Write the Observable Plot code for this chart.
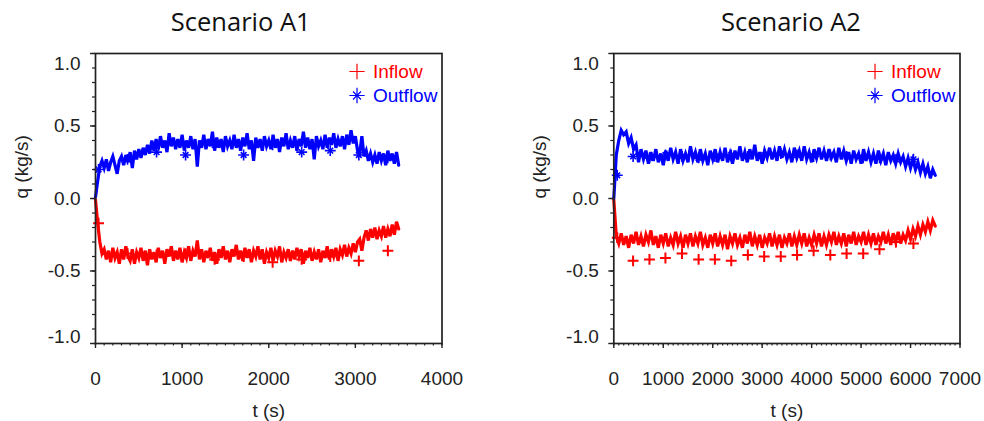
<!DOCTYPE html>
<html>
<head>
<meta charset="utf-8">
<script src="https://cdn.jsdelivr.net/npm/d3@7"></script>
<script src="https://cdn.jsdelivr.net/npm/@observablehq/plot@0.6"></script>
<style>
  html, body { margin: 0; padding: 0; background: #fff; }
  #wrap { position: relative; width: 984px; height: 421px; overflow: hidden; background: #fff; }
  .panel { position: absolute; top: 0; }
</style>
</head>
<body>
<div id="wrap"></div>
<script>
// ---------- text ----------
const titles = ["Scenario A1", "Scenario A2"];
const seriesNames = ["Inflow", "Outflow"];
const seriesColors = ["#ff0000", "#0000ff"];
const xLabel = "t (s)";
const yLabel = "q (kg/s)";

// ---------- ticks ----------
const yTicksMajorInner = [0.5, 0.0, -0.5];
const yTickTop = [1.0];
const yTickBottom = [-1.0];
const xTicksA1 = [0, 1000, 2000, 3000, 4000];
const xTicksA2 = [0, 1000, 2000, 3000, 4000, 5000, 6000, 7000];

// ---------- series (sampled every stepA1 / stepA2 seconds) ----------
const stepA1 = 25;
const outflowA1 = [
  0.01,0.12,0.22,0.26,0.21,0.27,0.19,0.25,0.29,0.23,
  0.17,0.26,0.29,0.23,0.30,0.25,0.32,0.21,0.33,0.27,
  0.34,0.28,0.35,0.30,0.37,0.31,0.40,0.33,0.41,0.34,
  0.43,0.35,0.40,0.32,0.45,0.36,0.42,0.34,0.41,0.35,
  0.44,0.33,0.40,0.35,0.43,0.34,0.41,0.22,0.40,0.35,
  0.44,0.34,0.41,0.36,0.46,0.33,0.42,0.35,0.41,0.32,
  0.43,0.36,0.40,0.34,0.44,0.35,0.41,0.33,0.42,0.36,
  0.45,0.34,0.40,0.26,0.42,0.35,0.41,0.33,0.43,0.36,
  0.40,0.34,0.44,0.35,0.41,0.32,0.42,0.36,0.45,0.34,
  0.40,0.35,0.43,0.33,0.41,0.36,0.46,0.35,0.42,0.34,
  0.41,0.27,0.43,0.36,0.40,0.34,0.44,0.35,0.42,0.37,
  0.45,0.35,0.41,0.36,0.43,0.34,0.44,0.37,0.47,0.38,
  0.43,0.33,0.31,0.43,0.29,0.33,0.26,0.31,0.25,0.30,
  0.24,0.32,0.26,0.31,0.23,0.33,0.26,0.31,0.24,0.32,
  0.23
];
const inflowA1 = [
  -0.01,-0.17,-0.30,-0.38,-0.35,-0.42,-0.36,-0.44,-0.34,-0.41,
  -0.37,-0.45,-0.35,-0.42,-0.33,-0.40,-0.43,-0.35,-0.45,-0.37,
  -0.41,-0.34,-0.43,-0.36,-0.46,-0.35,-0.42,-0.37,-0.44,-0.34,
  -0.41,-0.36,-0.45,-0.35,-0.40,-0.33,-0.43,-0.36,-0.42,-0.34,
  -0.44,-0.37,-0.41,-0.33,-0.43,-0.36,-0.40,-0.29,-0.42,-0.35,
  -0.44,-0.36,-0.41,-0.34,-0.43,-0.37,-0.45,-0.35,-0.41,-0.33,
  -0.42,-0.36,-0.44,-0.35,-0.40,-0.32,-0.42,-0.36,-0.43,-0.34,
  -0.41,-0.35,-0.44,-0.36,-0.40,-0.33,-0.42,-0.35,-0.45,-0.37,
  -0.41,-0.34,-0.43,-0.36,-0.40,-0.33,-0.44,-0.37,-0.41,-0.35,
  -0.43,-0.36,-0.42,-0.34,-0.40,-0.35,-0.45,-0.36,-0.41,-0.34,
  -0.43,-0.37,-0.42,-0.35,-0.44,-0.36,-0.41,-0.33,-0.42,-0.35,
  -0.40,-0.34,-0.43,-0.35,-0.39,-0.32,-0.40,-0.34,-0.38,-0.31,
  -0.37,-0.30,-0.28,-0.36,-0.27,-0.22,-0.29,-0.21,-0.27,-0.20,
  -0.28,-0.22,-0.26,-0.19,-0.27,-0.21,-0.26,-0.18,-0.25,-0.16,
  -0.21
];
const markerTimesA1 = [35, 370, 705, 1040, 1375, 1710, 2045, 2380, 2710, 3040, 3375];
const markerInflowA1 = [-0.17, -0.38, -0.39, -0.38, -0.42, -0.40, -0.44, -0.42, -0.40, -0.43, -0.36];
const markerOutflowA1 = [0.20, 0.27, 0.32, 0.30, 0.37, 0.30, 0.37, 0.32, 0.33, 0.30, 0.28];

const stepA2 = 50;
const outflowA2 = [
  0.00,0.30,0.40,0.47,0.44,0.46,0.38,0.42,0.34,0.37,
  0.25,0.34,0.27,0.33,0.24,0.32,0.26,0.34,0.25,0.31,
  0.23,0.33,0.26,0.35,0.27,0.32,0.24,0.34,0.26,0.31,
  0.25,0.36,0.27,0.32,0.25,0.34,0.26,0.31,0.23,0.33,
  0.27,0.34,0.25,0.32,0.26,0.35,0.25,0.31,0.24,0.33,
  0.27,0.36,0.26,0.32,0.25,0.34,0.27,0.37,0.26,0.32,
  0.24,0.33,0.28,0.35,0.27,0.33,0.26,0.36,0.28,0.34,
  0.27,0.32,0.25,0.35,0.28,0.33,0.26,0.36,0.27,0.32,
  0.25,0.34,0.28,0.35,0.27,0.33,0.26,0.34,0.28,0.32,
  0.25,0.35,0.27,0.33,0.26,0.32,0.24,0.33,0.27,0.31,
  0.24,0.34,0.26,0.32,0.25,0.31,0.24,0.33,0.26,0.31,
  0.23,0.32,0.26,0.30,0.24,0.31,0.25,0.29,0.22,0.28,
  0.21,0.27,0.20,0.25,0.18,0.24,0.17,0.22,0.14,0.20,
  0.16
];
const inflowA2 = [
  -0.01,-0.26,-0.31,-0.24,-0.32,-0.26,-0.34,-0.25,-0.31,-0.23,
  -0.32,-0.26,-0.33,-0.25,-0.30,-0.22,-0.32,-0.26,-0.34,-0.25,
  -0.31,-0.24,-0.33,-0.27,-0.32,-0.23,-0.31,-0.26,-0.34,-0.25,
  -0.31,-0.24,-0.33,-0.26,-0.31,-0.23,-0.32,-0.27,-0.34,-0.25,
  -0.31,-0.24,-0.33,-0.26,-0.32,-0.25,-0.35,-0.26,-0.31,-0.24,
  -0.32,-0.27,-0.34,-0.25,-0.31,-0.23,-0.33,-0.26,-0.32,-0.25,
  -0.34,-0.27,-0.31,-0.24,-0.33,-0.26,-0.32,-0.25,-0.34,-0.27,
  -0.31,-0.24,-0.33,-0.26,-0.32,-0.25,-0.31,-0.24,-0.33,-0.27,
  -0.32,-0.25,-0.31,-0.24,-0.33,-0.26,-0.32,-0.25,-0.30,-0.23,
  -0.32,-0.26,-0.31,-0.24,-0.33,-0.25,-0.31,-0.23,-0.32,-0.26,
  -0.30,-0.23,-0.32,-0.25,-0.31,-0.24,-0.32,-0.26,-0.30,-0.23,
  -0.31,-0.25,-0.32,-0.24,-0.30,-0.23,-0.31,-0.25,-0.29,-0.22,
  -0.28,-0.21,-0.26,-0.19,-0.25,-0.18,-0.23,-0.16,-0.22,-0.15,
  -0.19
];
const markerTimesA2 = [70, 390, 721, 1044, 1379, 1715, 2044, 2375, 2710, 3041, 3376, 3706, 4040, 4378, 4707, 5043, 5372, 5705, 6058];
const markerInflowA2 = [-0.27, -0.43, -0.42, -0.41, -0.38, -0.42, -0.42, -0.43, -0.39, -0.40, -0.40, -0.39, -0.36, -0.39, -0.38, -0.38, -0.35, -0.30, -0.31];
const markerOutflowA2 = [0.16, 0.29, 0.28, 0.30, 0.29, 0.28, 0.29, 0.30, 0.29, 0.30, 0.31, 0.30, 0.29, 0.30, 0.29, 0.28, 0.28, 0.27, 0.27];

// ---------- build ----------
const fmt = d => d.toFixed(1);
const yMinor = d3.range(-10, 11).map(i => i / 10);
const axisColor = "#222";

function panel(cfg) {
  const rows = (vals, step) => vals.map((q, i) => ({t: i * step, q}));
  const inRows = rows(cfg.inflow, cfg.step);
  const outRows = rows(cfg.outflow, cfg.step);
  const mkIn = cfg.mkT.map((t, i) => ({t, q: cfg.mkIn[i]}));
  const mkOut = cfg.mkT.map((t, i) => ({t, q: cfg.mkOut[i]}));
  const xMax = cfg.xTicks[cfg.xTicks.length - 1];
  const xMinor = d3.range(0, xMax + 1, 100);
  const [cIn, cOut] = seriesColors;
  return Plot.plot({
    width: cfg.width,
    height: 421,
    marginLeft: cfg.ml,
    marginRight: cfg.mr,
    marginTop: 53,
    marginBottom: 78,
    style: {fontFamily: "'Liberation Sans', Arial, sans-serif", fontSize: "19px", background: "white", color: axisColor, overflow: "visible"},
    x: {domain: [0, xMax]},
    y: {domain: [-1, 1]},
    marks: [
      // lines
      Plot.line(inRows, {x: "t", y: "q", stroke: cIn, strokeWidth: 3.2, strokeLinejoin: "miter", strokeMiterlimit: 4}),
      Plot.line(outRows, {x: "t", y: "q", stroke: cOut, strokeWidth: 3.2, strokeLinejoin: "miter", strokeMiterlimit: 4}),
      // markers
      Plot.dot(mkIn, {x: "t", y: "q", symbol: "plus", r: 3.6, stroke: cIn, strokeWidth: 2}),
      Plot.dot(mkOut, {x: "t", y: "q", symbol: "plus", r: 3.6, stroke: cOut, strokeWidth: 1.6}),
      Plot.dot(mkOut, {x: "t", y: "q", symbol: "times", r: 2.7, stroke: cOut, strokeWidth: 1.6}),
      // frame
      Plot.frame({stroke: axisColor, strokeWidth: 1.7}),
      // y axis ticks
      Plot.axisY({ticks: yMinor, tickSize: 3, fill: "none", label: null, strokeWidth: 1.2}),
      Plot.axisY({ticks: [...yTickTop, ...yTicksMajorInner, ...yTickBottom], tickSize: 5, fill: "none", label: null, strokeWidth: 1.4}),
      Plot.axisY({ticks: yTicksMajorInner, tickSize: 0, tickPadding: 15, tickFormat: fmt, label: null}),
      Plot.axisY({ticks: yTickTop, tickSize: 0, tickPadding: 15, tickFormat: fmt, label: null, dy: 10}),
      Plot.axisY({ticks: yTickBottom, tickSize: 0, tickPadding: 15, tickFormat: fmt, label: null, dy: -7}),
      // x axis ticks
      Plot.axisX({ticks: xMinor, tickSize: 2.5, fill: "none", label: null, strokeWidth: 1.2}),
      Plot.axisX({ticks: cfg.xTicks, tickSize: 5, tickPadding: 23, tickFormat: d => String(d), label: null, strokeWidth: 1.4}),
      // axis labels
      Plot.text([yLabel], {text: d => d, frameAnchor: "left", rotate: -90, dx: -74, fontSize: 19, fill: axisColor}),
      Plot.text([xLabel], {text: d => d, frameAnchor: "bottom", lineAnchor: "middle", dy: 67, fontSize: 19, fill: axisColor}),
      // title
      Plot.text([cfg.title], {text: d => d, frameAnchor: "top", lineAnchor: "middle", dy: -31, dx: cfg.titleDx, fontSize: 25.5, fontFamily: "'Open Sans', sans-serif", fill: "#111"}),
      // legend
      Plot.dot([0], {frameAnchor: "top-right", dx: -85, dy: 18, symbol: "plus", r: 5, stroke: cIn, strokeWidth: 1.2}),
      Plot.dot([0], {frameAnchor: "top-right", dx: -85, dy: 42, symbol: "plus", r: 5, stroke: cOut, strokeWidth: 1.2}),
      Plot.dot([0], {frameAnchor: "top-right", dx: -85, dy: 42, symbol: "times", r: 3.7, stroke: cOut, strokeWidth: 1.2}),
      Plot.text([seriesNames[0]], {text: d => d, frameAnchor: "top-right", lineAnchor: "middle", dx: -69, dy: 18, textAnchor: "start", fill: cIn, fontSize: 19}),
      Plot.text([seriesNames[1]], {text: d => d, frameAnchor: "top-right", lineAnchor: "middle", dx: -69, dy: 42, textAnchor: "start", fill: cOut, fontSize: 19})
    ]
  });
}

const wrap = document.getElementById("wrap");
const p1 = panel({
  title: titles[0], titleDx: -28, width: 492, ml: 95, mr: 50.5,
  xTicks: xTicksA1, step: stepA1, inflow: inflowA1, outflow: outflowA1,
  mkT: markerTimesA1, mkIn: markerInflowA1, mkOut: markerOutflowA1
});
const p2 = panel({
  title: titles[1], titleDx: 4, width: 492, ml: 121.3, mr: 24.5,
  xTicks: xTicksA2, step: stepA2, inflow: inflowA2, outflow: outflowA2,
  mkT: markerTimesA2, mkIn: markerInflowA2, mkOut: markerOutflowA2
});
p1.classList.add("panel"); p1.style.left = "0px";
p2.classList.add("panel"); p2.style.left = "492px";
wrap.appendChild(p1);
wrap.appendChild(p2);
</script>
</body>
</html>
